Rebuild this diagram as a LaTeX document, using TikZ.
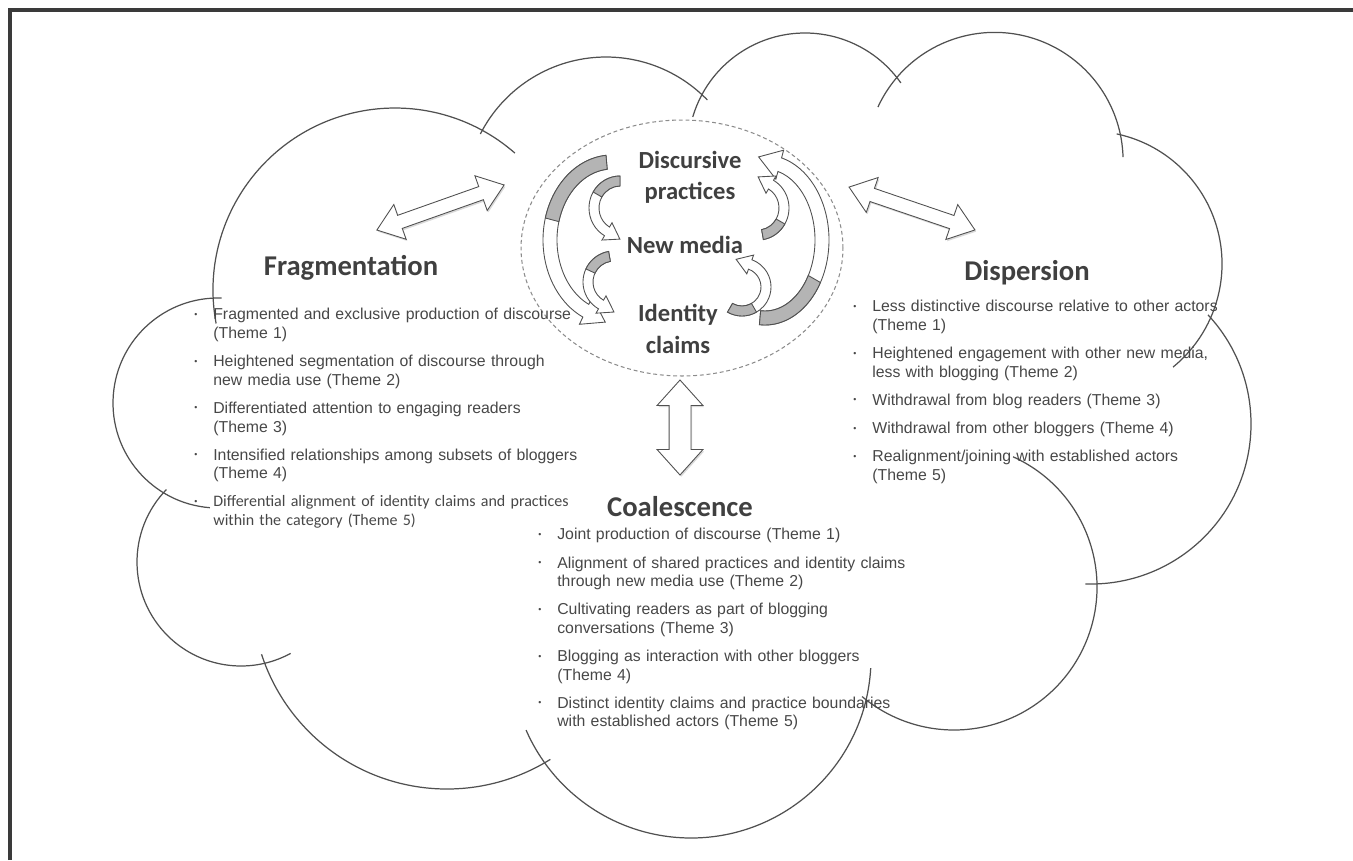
\documentclass[tikz,border=0pt]{standalone}
\usepackage{graphicx}
\usepackage{fontspec}
\setmainfont{Liberation Sans}
\newfontfamily\calibri{Carlito}
\usetikzlibrary{shapes.geometric,shapes.arrows,shadows}

\definecolor{inkgray}{HTML}{404040}
\definecolor{textgray}{HTML}{474747}
\definecolor{cloudgray}{HTML}{505050}
\definecolor{ribbongray}{HTML}{B4B4B4}
\definecolor{framegray}{HTML}{3A3A3A}
\definecolor{dashgray}{HTML}{8C8C8C}

\newlength\bulind \setlength\bulind{10.8pt}
\newlength\itmgap \setlength\itmgap{5.4pt}
\newcommand{\themeitem}[1]{\par\noindent\hangindent=\bulind\hangafter=1
  \makebox[\bulind][l]{\raisebox{0.3ex}{\scalebox{0.55}{\textbullet}}}#1\par\vspace{\itmgap}}

% curved ribbon arrow: cx, cy, rx, ry, start, split, end, band, head
\newcommand{\curvarrow}[9]{%
  \pgfmathsetmacro\cvrxo{#3+#8/2}\pgfmathsetmacro\cvryo{#4+#8/2}%
  \pgfmathsetmacro\cvrxi{#3-#8/2}\pgfmathsetmacro\cvryi{#4-#8/2}%
  \pgfmathsetmacro\cvsgn{(#7>#5)?1:-1}%
  \pgfmathsetmacro\cvtx{-\cvsgn*#3*sin(#7)}\pgfmathsetmacro\cvty{\cvsgn*#4*cos(#7)}%
  \pgfmathsetmacro\cvtl{veclen(\cvtx,\cvty)}%
  \pgfmathsetmacro\cvpx{#1+#3*cos(#7)}\pgfmathsetmacro\cvpy{#2+#4*sin(#7)}%
  \pgfmathsetmacro\cvhx{#9/2*cos(#7)}\pgfmathsetmacro\cvhy{#9/2*sin(#7)}%
  \pgfmathsetmacro\cvax{\cvpx+(\cvhx)}\pgfmathsetmacro\cvay{\cvpy+(\cvhy)}%
  \pgfmathsetmacro\cvbx{\cvpx-(\cvhx)}\pgfmathsetmacro\cvby{\cvpy-(\cvhy)}%
  \pgfmathsetmacro\cvkx{\cvpx+0.75*#9*\cvtx/\cvtl}\pgfmathsetmacro\cvky{\cvpy+0.75*#9*\cvty/\cvtl}%
  \pgfmathsetmacro\cvsox{#1+\cvrxo*cos(#5)}\pgfmathsetmacro\cvsoy{#2+\cvryo*sin(#5)}%
  \pgfmathsetmacro\cveix{#1+\cvrxi*cos(#7)}\pgfmathsetmacro\cveiy{#2+\cvryi*sin(#7)}%
  \pgfmathsetmacro\cvmix{#1+\cvrxi*cos(#6)}\pgfmathsetmacro\cvmiy{#2+\cvryi*sin(#6)}%
  \filldraw[ribbon] (\cvsox,\cvsoy)
    arc[start angle=#5, end angle=#7, x radius=\cvrxo, y radius=\cvryo]
    -- (\cvax,\cvay) -- (\cvkx,\cvky) -- (\cvbx,\cvby) -- (\cveix,\cveiy)
    arc[start angle=#7, end angle=#5, x radius=\cvrxi, y radius=\cvryi] -- cycle;
  \filldraw[ribbon, fill=ribbongray] (\cvsox,\cvsoy)
    arc[start angle=#5, end angle=#6, x radius=\cvrxo, y radius=\cvryo]
    -- (\cvmix,\cvmiy)
    arc[start angle=#6, end angle=#5, x radius=\cvrxi, y radius=\cvryi] -- cycle;
}

\tikzset{
  cloudline/.style={draw=cloudgray, line width=0.7pt},
  ribbon/.style={draw=cloudgray, line width=0.5pt, fill=white},
  coreoval/.style={ellipse, draw=dashgray, line width=0.6pt, dash pattern=on 2.2pt off 1.6pt,
    minimum width=6.44cm, minimum height=5.12cm, inner sep=0pt},
  corelabel/.style={font=\calibri\bfseries\fontsize{14}{17.8}\selectfont, text=inkgray,
    align=center, inner sep=0pt},
  heading/.style={font=\calibri\bfseries\fontsize{16.3}{19}\selectfont, text=inkgray, inner sep=0pt},
  themelist/.style={anchor=north west, inner sep=0pt, text width=8.6cm, align=left,
    text=textgray, font=\fontsize{9}{10.6}\selectfont},
  linkarrow/.style={double arrow, draw=cloudgray, fill=white, line width=0.5pt,
    inner xsep=0pt, inner ysep=0.13cm, double arrow head extend=0.23cm, double arrow tip angle=74,
    drop shadow={opacity=0.3, shadow xshift=0.7pt, shadow yshift=-1pt}}
}

\begin{document}
\begin{tikzpicture}[x=0.02cm, y=-0.02cm]
  \useasboundingbox (0,0) rectangle (1353,860);
  \draw[framegray, line width=2.8pt] (10,860) -- (10,10) -- (1353,10);

  % cloud lobes
  \foreach \cx/\cy/\r/\sa/\ea in {395/290/182/169.4/311.2, 606/198/141/207/316,
      805/150/117/196.4/325, 994.6/160.9/128.5/204.8/358.3, 1089/264/133/282/410.8,
      1091/424/160/-43/92, 954/587/143/-65.6/130, 691/658/180/3.2/156.4,
      447/594/195/162/58, 241/562/104/224.2/61.5, 218/403/105/94.4/272}
    \draw[cloudline] (\cx,\cy) ++(\sa:\r) arc[start angle=\sa, end angle=\ea, radius=\r];

  \node[coreoval] (core) at (682,248) {};

  % ribbons round the core
  \curvarrow{612}{240}{62}{78}{-95}{-165}{-245}{14}{30}
  \curvarrow{765}{240}{57}{78}{95}{30}{-75}{14}{30}
  \curvarrow{620}{208}{26}{27}{-90}{-150}{-240}{10}{20}
  \curvarrow{614}{282}{26}{26}{-100}{-155}{-240}{10}{20}
  \curvarrow{758}{208}{26}{27}{80}{30}{-60}{10}{20}
  \curvarrow{742}{287}{24}{24}{120}{60}{-70}{10}{20}

  \node[corelabel] (prac) at (690,177) {Discursive\\practices};
  \node[corelabel] (media) at (685,245) {New media};
  \node[corelabel] (ident) at (678,329) {Identity\\claims};

  \node[linkarrow, minimum height=2.70cm, rotate=19.5] (fraglink) at (440.5,207.5) {};
  \node[linkarrow, minimum height=2.66cm, rotate=-18.8] (displink) at (912,208.5) {};
  \node[linkarrow, minimum height=1.90cm, inner ysep=0.21cm, double arrow head extend=0.24cm,
    double arrow tip angle=84, rotate=90] (coallink) at (680,427.5) {};

  \node[heading] (frag) at (351,268) {Fragmentation};
  \node[heading] (disp) at (1027,273) {Dispersion};
  \node[heading] (coal) at (680,507) {Coalescence};

  \node[themelist] (fraglist) at (194,301) {%
    \themeitem{Fragmented and exclusive production of discourse\newline(Theme 1)}
    \themeitem{Heightened segmentation of discourse through\newline new media use (Theme 2)}
    \themeitem{Differentiated attention to engaging readers\newline(Theme 3)}
    \themeitem{Intensified relationships among subsets of bloggers\newline(Theme 4)}
    \themeitem{\calibri\fontsize{9.1}{10.6}\selectfont Differential alignment of identity claims and practices\newline within the category (Theme 5)}};

  \node[themelist] (displist) at (853,293) {%
    \themeitem{Less distinctive discourse relative to other actors\newline(Theme 1)}
    \themeitem{Heightened engagement with other new media,\newline less with blogging (Theme 2)}
    \themeitem{Withdrawal from blog readers (Theme 3)}
    \themeitem{Withdrawal from other bloggers (Theme 4)}
    \themeitem{Realignment/joining with established actors\newline(Theme 5)}};

  \node[themelist] (coallist) at (538,521) {%
    \themeitem{Joint production of discourse (Theme 1)}
    \themeitem{Alignment of shared practices and identity claims\newline through new media use (Theme 2)}
    \themeitem{Cultivating readers as part of blogging\newline conversations (Theme 3)}
    \themeitem{Blogging as interaction with other bloggers\newline(Theme 4)}
    \themeitem{Distinct identity claims and practice boundaries\newline with established actors (Theme 5)}};
\end{tikzpicture}
\end{document}
